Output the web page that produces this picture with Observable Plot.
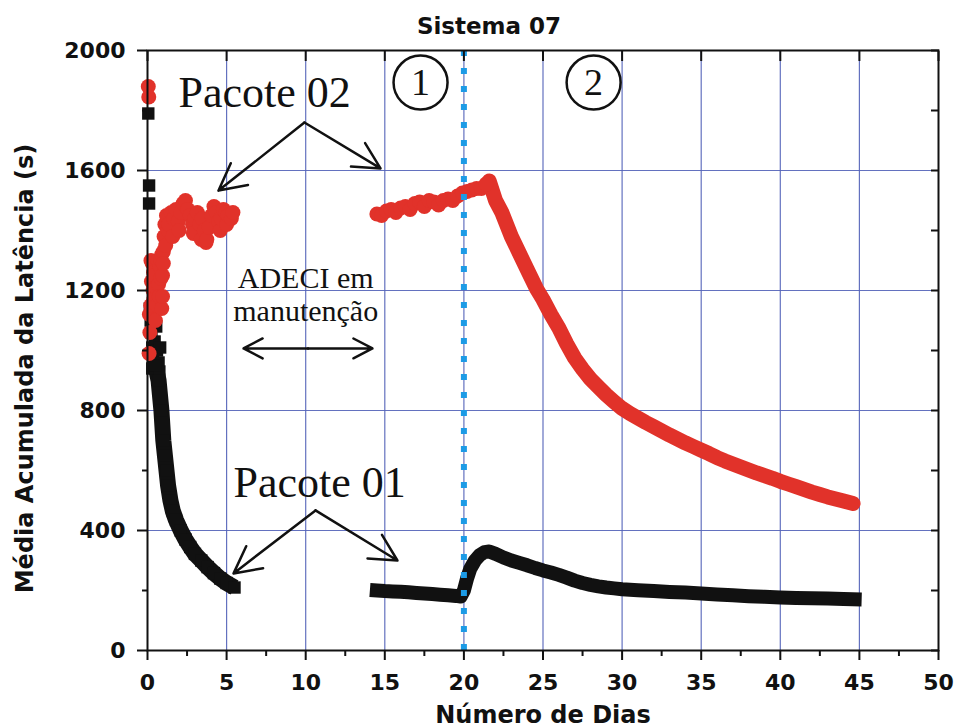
<!DOCTYPE html>
<html><head><meta charset="utf-8">
<script src="https://cdn.jsdelivr.net/npm/d3@7"></script>
<script src="https://cdn.jsdelivr.net/npm/@observablehq/plot@0.6"></script>
<style>body{margin:0;background:#fff;} #chart svg{display:block}</style>
</head><body><div id="chart"></div>
<script>
// ---- Data (day, accumulated mean latency in s) ----
// Pacote 01 (black squares)
const p01_start = [[0.05,1790],[0.1,1550],[0.1,1490],[0.15,1140],[0.2,1100],[0.25,1060],[0.3,1010],[0.35,970],[0.4,1120],[0.45,1030],[0.55,1080],[0.6,1000],[0.7,960],[0.3,940],[0.45,950],[0.8,1010],[0.75,930]];
const p01_seg1 = [[0.5,950],[0.7,900],[0.88,800],[1.0,700],[1.1,650],[1.2,600],[1.3,550],[1.45,500],[1.6,465],[1.8,435],[2.1,400],[2.4,370],[2.7,345],[3.0,322],[3.4,300],[3.8,278],[4.2,258],[4.6,240],[5.0,225],[5.5,210]];
const p01_seg2 = [[14.5,200],[15,198],[15.5,197],[16,196],[16.5,194],[17,192],[17.5,190],[18,188],[18.5,186],[19,184],[19.5,182],[19.8,180],[20,200],[20.2,240],[20.4,272],[20.7,300],[21,318],[21.3,328],[21.6,330],[22,322],[22.5,310],[23,300],[23.5,292],[24,284],[24.5,275],[25,267],[25.5,260],[26,252],[26.5,243],[27,233],[27.5,225],[28,219],[28.5,214],[29,210],[29.5,207],[30,204],[31,201],[32,198],[33,195],[34,193],[35,190],[36,187],[37,184],[38,181],[39,179],[40,177],[41,175],[42,174],[43,173],[44,172],[44.7,171]];
// Pacote 02 (red circles)
const p02_start = [[0.05,1880],[0.08,1845],[0.1,990],[0.12,1120],[0.15,1060],[0.2,1150],[0.22,1300],[0.25,1230],[0.3,1290],[0.35,1200],[0.38,1260],[0.4,1170],[0.45,1250],[0.5,1100],[0.55,1210],[0.6,1150],[0.65,1300],[0.7,1220],[0.75,1180],[0.8,1280],[0.85,1240],[0.85,1300],[0.9,1140],[0.9,1320],[0.95,1180],[0.95,1250],[1.0,1330],[1.0,1290],[1.05,1380],[1.1,1420],[1.15,1350],[1.2,1450],[1.3,1400],[1.35,1420],[1.5,1460],[1.6,1380],[1.65,1440],[1.8,1470],[1.95,1430],[2.0,1400],[2.1,1460],[2.25,1490],[2.4,1500],[2.55,1470],[2.7,1450],[2.85,1420],[2.9,1390],[3.0,1440],[3.15,1460],[3.3,1420],[3.4,1370],[3.45,1440],[3.6,1400],[3.7,1360],[3.75,1370],[3.9,1410],[4.05,1450],[4.2,1480],[4.35,1460],[4.5,1430],[4.6,1400],[4.65,1440],[4.8,1470],[4.95,1460],[5.0,1420],[5.1,1450],[5.3,1440],[5.4,1460]];
const p02_seg2 = [[14.5,1455],[14.8,1450],[15.1,1465],[15.4,1470],[15.7,1460],[16.0,1475],[16.3,1480],[16.6,1470],[16.9,1490],[17.2,1495],[17.5,1480],[17.8,1500],[18.1,1495],[18.4,1485],[18.7,1500],[19.0,1505],[19.3,1500],[19.6,1515],[19.9,1525],[20.2,1530],[20.5,1535],[20.8,1540],[21.1,1540],[21.4,1555]];
const p02_decay = [[21.6,1565],[22.0,1500],[22.4,1460],[23.0,1380],[23.5,1325],[24.0,1270],[24.6,1205],[25.0,1170],[25.5,1120],[26.0,1075],[26.5,1022],[27.0,975],[27.5,938],[28.0,905],[28.5,878],[29.0,852],[29.5,829],[30.0,807],[30.5,790],[31.0,775],[31.5,760],[32.0,746],[32.5,732],[33.0,718],[33.5,705],[34.0,692],[34.5,680],[35.0,668],[35.5,656],[36.0,643],[36.5,632],[37.0,622],[37.5,612],[38.0,602],[38.5,592],[39.0,583],[39.5,574],[40.0,564],[40.5,555],[41.0,546],[41.5,537],[42.0,528],[42.5,520],[43.0,512],[43.5,505],[44.0,498],[44.6,490]];

// ---- Axis ticks ----
const xTicks = [0,5,10,15,20,25,30,35,40,45,50];
const xMinor = [2.5,7.5,12.5,17.5,22.5,27.5,32.5,37.5,42.5,47.5];
const xGrid = [5,10,15,20,25,30,35,40,45];
const yTicks = [0,400,800,1200,1600,2000];
const yMinor = [200,600,1000,1400,1800];
const yGrid = [400,800,1200,1600];
const phaseDay = [20];

// ---- Texts ----
const title = "Sistema 07";
const xTitle = "Número de Dias";
const yTitle = "Média Acumulada da Latência (s)";
const bigLabels = [{x:1.96, y:1813, t:"Pacote 02"},{x:5.44, y:513, t:"Pacote 01"}];
const noteLines = [{x:10.0, y:1210, t:"ADECI em"},{x:10.0, y:1100, t:"manutenção"}];
const phases = [{x:17.26, y:1893, t:"1"},{x:28.2, y:1893, t:"2"}];
const arrows = [
  {x1:9.92, y1:1760, x2:4.49, y2:1533},{x1:9.92, y1:1760, x2:14.73, y2:1607},
  {x1:10.62, y1:467, x2:5.44, y2:257},{x1:10.62, y1:467, x2:15.8, y2:300},
  {x1:10.15, y1:1007, x2:6.07, y2:1007},{x1:10.15, y1:1007, x2:14.22, y2:1007}
];

const obj = a => a.map(([x,y]) => ({x,y}));
const RED = "#e1322a", BLACK = "#111111", GRID = "#5262b8", BLUE = "#1c9be6";
const SANS = "DejaVu Sans", SERIF = "Liberation Serif";
const blank = () => "";
const plain = d => String(d);

const plot = Plot.plot({
  width: 959, height: 727,
  marginLeft: 147, marginRight: 21, marginTop: 50, marginBottom: 77,
  x: {domain: [0,50], label: null},
  y: {domain: [0,2000], label: null},
  style: {fontFamily: SANS, fontWeight: "bold", background: "#fff", color: BLACK},
  marks: [
    Plot.ruleX(xGrid, {stroke: GRID, strokeWidth: 1.2, strokeOpacity: 0.9}),
    Plot.ruleY(yGrid, {stroke: GRID, strokeWidth: 1.2, strokeOpacity: 0.9}),
    // Pacote 01
    Plot.line(obj(p01_seg1), {x:"x", y:"y", stroke: BLACK, strokeWidth: 16, strokeLinecap: "butt", strokeLinejoin: "round"}),
    Plot.line(obj(p01_seg2), {x:"x", y:"y", stroke: BLACK, strokeWidth: 14, strokeLinecap: "square", strokeLinejoin: "round"}),
    Plot.dot(obj(p01_start.concat(p01_seg1)), {x:"x", y:"y", symbol:"square", r: 7, fill: BLACK, stroke: null}),
    // Pacote 02
    Plot.line(obj(p02_decay), {x:"x", y:"y", stroke: RED, strokeWidth: 15, strokeLinecap: "round", strokeLinejoin: "round"}),
    Plot.dot(obj(p02_start.concat(p02_seg2)), {x:"x", y:"y", r: 7.5, fill: RED, stroke: null}),
    // phase separator
    Plot.ruleX(phaseDay, {stroke: BLUE, strokeWidth: 6, strokeDasharray: "6,12"}),
    // frame + axes
    Plot.frame({stroke: BLACK, strokeWidth: 2}),
    Plot.axisX(xTicks, {anchor:"bottom", tickSize: 10, tickPadding: 14, tickFormat: plain, fontSize: 22, fontWeight: "bold", strokeWidth: 2, label: null}),
    Plot.axisX(xMinor, {anchor:"bottom", tickSize: 6, tickFormat: blank, strokeWidth: 2, label: null}),
    Plot.axisX(xTicks, {anchor:"top", tickSize: -10, tickFormat: blank, strokeWidth: 2, label: null}),
    Plot.axisY(yTicks, {anchor:"left", tickSize: 10, tickPadding: 12, tickFormat: plain, fontSize: 22, fontWeight: "bold", strokeWidth: 2, label: null}),
    Plot.axisY(yMinor, {anchor:"left", tickSize: 5, tickFormat: blank, strokeWidth: 2, label: null}),
    Plot.axisY(yTicks.concat(yMinor), {anchor:"right", tickSize: -8, tickFormat: blank, strokeWidth: 2, label: null}),
    // titles
    Plot.text([title], {text: d => d, frameAnchor: "top", textAnchor: "middle", dx: -54, dy: -17, lineAnchor: "bottom", fontSize: 23, fontWeight: "bold"}),
    Plot.text([xTitle], {text: d => d, frameAnchor: "bottom", textAnchor: "middle", dy: 72, lineAnchor: "bottom", fontSize: 24, fontWeight: "bold"}),
    Plot.text([yTitle], {text: d => d, frameAnchor: "left", textAnchor: "middle", rotate: -90, dx: -122, dy: 18, fontSize: 24, fontWeight: "bold"}),
    // annotations
    Plot.text(bigLabels, {x:"x", y:"y", text:"t", textAnchor: "start", lineAnchor: "bottom", fontFamily: SERIF, fontWeight: "normal", fontSize: 44, fill: BLACK}),
    Plot.text(noteLines, {x:"x", y:"y", text:"t", textAnchor: "middle", lineAnchor: "bottom", fontFamily: SERIF, fontWeight: "normal", fontSize: 30, fill: BLACK}),
    Plot.dot(phases, {x:"x", y:"y", r: 27, stroke: BLACK, strokeWidth: 2.5, fill: "none"}),
    Plot.text(phases, {x:"x", y:"y", text:"t", fontFamily: SERIF, fontWeight: "normal", fontSize: 38, fill: BLACK}),
    Plot.arrow(arrows, {x1:"x1", y1:"y1", x2:"x2", y2:"y2", stroke: BLACK, strokeWidth: 2.5, headLength: 18, headAngle: 55})
  ]
});
document.getElementById("chart").append(plot);
</script></body></html>
